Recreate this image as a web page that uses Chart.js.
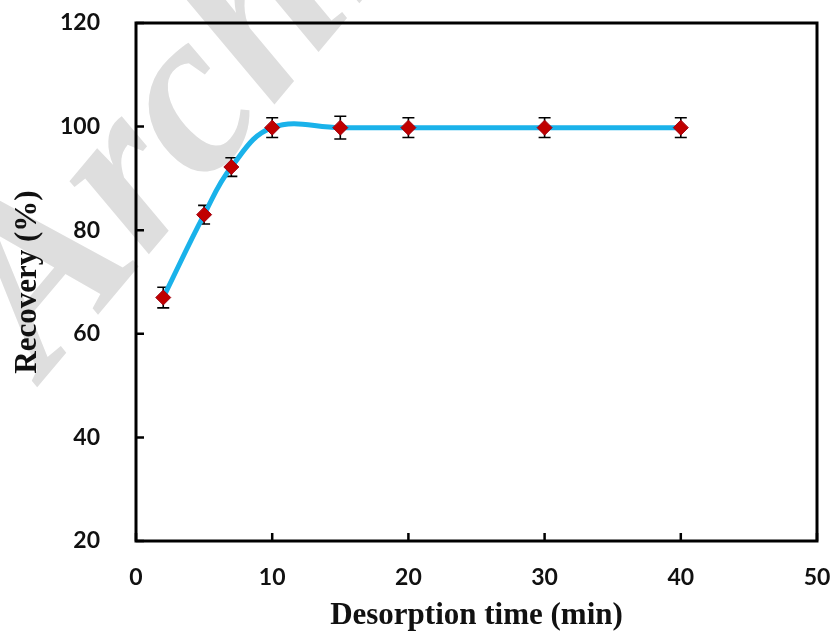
<!DOCTYPE html>
<html>
<head>
<meta charset="utf-8">
<script src="https://cdn.jsdelivr.net/npm/chart.js@4.4.1/dist/chart.umd.min.js"></script>
<style>
  html, body { margin: 0; padding: 0; background: #fff; }
  #wrap { width: 834px; height: 631px; }
</style>
</head>
<body>
<div id="wrap"><canvas id="canvas"></canvas></div>
<script>
var times = [2, 5, 7, 10, 15, 20, 30, 40];
var recovery = [67, 83, 92.2, 99.8, 99.8, 99.8, 99.8, 99.8];
var errors = [2, 1.8, 1.8, 1.9, 2.2, 1.9, 1.9, 1.9];
var xTicks = [0, 10, 20, 30, 40, 50];
var yTicks = [20, 40, 60, 80, 100, 120];

// faint diagonal watermark behind the chart
var watermark = {
    id: "watermark",
    beforeDraw: function (chart) {
        var ctx = chart.ctx;
        ctx.save();
        ctx.translate(45, 378);
        ctx.rotate(-50 * Math.PI / 180);
        ctx.font = "italic bold 235px 'Liberation Serif'";
        ctx.fillStyle = "#dedede";
        ctx.textBaseline = "alphabetic";
        ctx.fillText("Archive of SID", 0, 0);
        ctx.restore();
    }
};

var errorBars = {
    id: "errorBars",
    beforeDatasetsDraw: function (chart) {
        var ctx = chart.ctx;
        var xs = chart.scales.x, ys = chart.scales.y;
        ctx.save();
        ctx.strokeStyle = "#000";
        ctx.lineWidth = 1.6;
        for (var i = 0; i < times.length; i++) {
            var px = xs.getPixelForValue(times[i]);
            var top = ys.getPixelForValue(recovery[i] + errors[i]);
            var bot = ys.getPixelForValue(recovery[i] - errors[i]);
            ctx.beginPath();
            ctx.moveTo(px, top); ctx.lineTo(px, bot);
            ctx.moveTo(px - 6, top); ctx.lineTo(px + 6, top);
            ctx.moveTo(px - 6, bot); ctx.lineTo(px + 6, bot);
            ctx.stroke();
        }
        ctx.restore();
    }
};

// box frame and inward ticks
var frame = {
    id: "frame",
    afterDraw: function (chart) {
        var ctx = chart.ctx, a = chart.chartArea;
        var xs = chart.scales.x, ys = chart.scales.y;
        ctx.save();
        ctx.strokeStyle = "#000";
        ctx.lineWidth = 2.5;
        ctx.beginPath();
        for (var i = 0; i < xTicks.length; i++) {
            var px = xs.getPixelForValue(xTicks[i]);
            ctx.moveTo(px, a.bottom); ctx.lineTo(px, a.bottom - 8);
        }
        for (var j = 0; j < yTicks.length; j++) {
            var py = ys.getPixelForValue(yTicks[j]);
            ctx.moveTo(a.left, py); ctx.lineTo(a.left + 8, py);
        }
        ctx.stroke();
        ctx.lineWidth = 3;
        ctx.strokeRect(a.left, a.top, a.right - a.left, a.bottom - a.top);
        ctx.restore();
    }
};

var points = [];
for (var k = 0; k < times.length; k++) {
    points.push({ x: times[k], y: recovery[k] });
}

new Chart(document.getElementById("canvas"), {
    type: "line",
    data: {
        datasets: [{
            label: "Recovery",
            data: points,
            borderColor: "#1ab2ea",
            borderWidth: 5,
            tension: 0.4,
            pointStyle: "rectRot",
            pointRadius: 7.5,
            pointBackgroundColor: "#c00000",
            pointBorderColor: "#a00010",
            pointBorderWidth: 1
        }]
    },
    options: {
        responsive: true,
        maintainAspectRatio: false,
        animation: false,
        layout: { padding: { top: 23, right: 17, left: 0, bottom: 0 } },
        plugins: {
            legend: { display: false },
            tooltip: { enabled: false }
        },
        scales: {
            x: {
                type: "linear",
                min: 0,
                max: 50,
                afterFit: function (s) {
                    s.height = 90;
                    s.paddingLeft = 0;
                    s.paddingRight = 0;
                },
                afterBuildTicks: function (s) {
                    s.ticks = xTicks.map(function (v) { return { value: v }; });
                },
                grid: { display: false },
                border: { display: false },
                ticks: {
                    padding: 15,
                    color: "#111",
                    font: { family: "Lato", weight: "bold", size: 23 }
                },
                title: {
                    display: true,
                    text: "Desorption time (min)",
                    color: "#111",
                    padding: 0,
                    font: { family: "Liberation Serif", weight: "bold", size: 31, lineHeight: 1 }
                }
            },
            y: {
                min: 20,
                max: 120,
                afterFit: function (s) {
                    s.width = 136;
                    s.paddingTop = 0;
                    s.paddingBottom = 0;
                },
                afterBuildTicks: function (s) {
                    s.ticks = yTicks.map(function (v) { return { value: v }; });
                },
                grid: { display: false },
                border: { display: false },
                ticks: {
                    padding: 28,
                    color: "#111",
                    font: { family: "Lato", weight: "bold", size: 23 }
                },
                title: {
                    display: true,
                    text: "Recovery (%)",
                    color: "#111",
                    padding: { top: 12, bottom: 0 },
                    font: { family: "Liberation Serif", weight: "bold", size: 31, lineHeight: 1 }
                }
            }
        }
    },
    plugins: [watermark, errorBars, frame]
});
</script>
</body>
</html>
